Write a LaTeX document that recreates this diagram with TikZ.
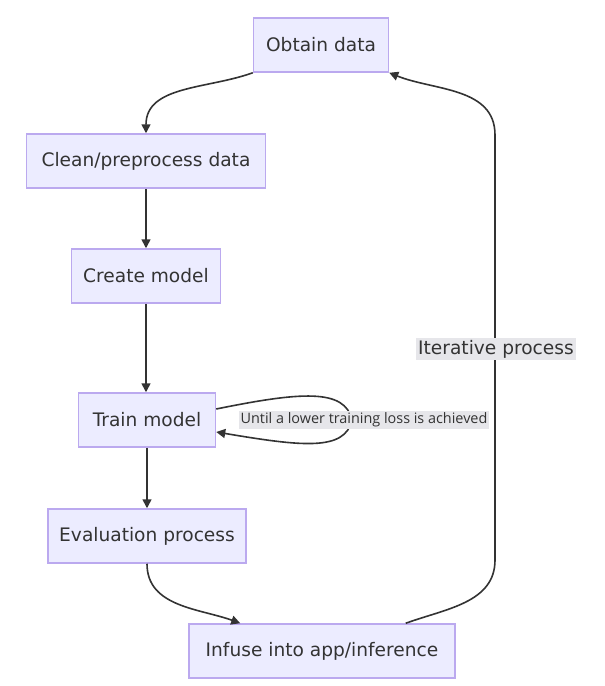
\documentclass[tikz,border=0pt]{standalone}
\usepackage{fontspec}
\setmainfont{DejaVu Sans}
\newfontfamily\lblfont{Open Sans}
\usetikzlibrary{arrows.meta,calc}
\definecolor{boxfill}{HTML}{ECECFF}
\definecolor{boxline}{HTML}{BBA9EF}
\definecolor{lblfill}{HTML}{E6E6EA}
\definecolor{ink}{HTML}{333333}
\begin{document}
\begin{tikzpicture}[x=1pt, y=-1pt, >={Triangle[length=9pt,width=9pt]},
	box/.style={draw=boxline, fill=boxfill, line width=1.5pt, minimum height=54pt, inner sep=0pt, text=ink, font=\fontsize{18.6}{21}\selectfont},
	flow/.style={->, draw=ink, line width=1.6pt},
	lbl/.style={fill=lblfill, text=ink, inner sep=2pt}]
	\useasboundingbox (0,0) rectangle (605,686);

	\node[box, minimum width=135pt] (obtain) at (321,45) {Obtain data};
	\node[box, minimum width=239pt] (clean) at (146,161) {Clean/preprocess data};
	\node[box, minimum width=149pt] (create) at (146,276) {Create model};
	\node[box, minimum width=137pt] (train) at (147,420) {Train model};
	\node[box, minimum width=198pt] (eval) at (147,536) {Evaluation process};
	\node[box, minimum width=266pt] (infuse) at (322,651) {Infuse into app/inference};

	\coordinate (rlow) at (495,560);
	\coordinate (rhigh) at (495,135);

	\draw[flow] (obtain.south west) to[out=200, in=90] (clean.north);
	\draw[flow] (clean) -- (create);
	\draw[flow] (create) -- (train.north -| create);
	\draw[flow] (train) -- (eval);
	\draw[flow] (eval.south) to[out=-90, in=160] ($(infuse.north west)+(52,0)$);

	% self loop on training
	\draw[flow] ($(train.east)+(0,-11)$) .. controls (300,392) and (345,388) .. (352,420)
		.. controls (345,452) and (300,446) .. ($(train.east)+(0,12)$);
	\node[lbl, font=\lblfont\fontsize{14.4}{16}\selectfont] (loop) at (364,420) {Until a lower training loss is achieved};

	% back to the start
	\draw[flow] ($(infuse.north east)+(-50,0)$) to[out=20, in=-90] (rlow) -- (rhigh) to[out=90, in=-22] (obtain.south east);
	\node[lbl, font=\fontsize{18.6}{21}\selectfont] (iter) at (496,349) {Iterative process};
\end{tikzpicture}
\end{document}
